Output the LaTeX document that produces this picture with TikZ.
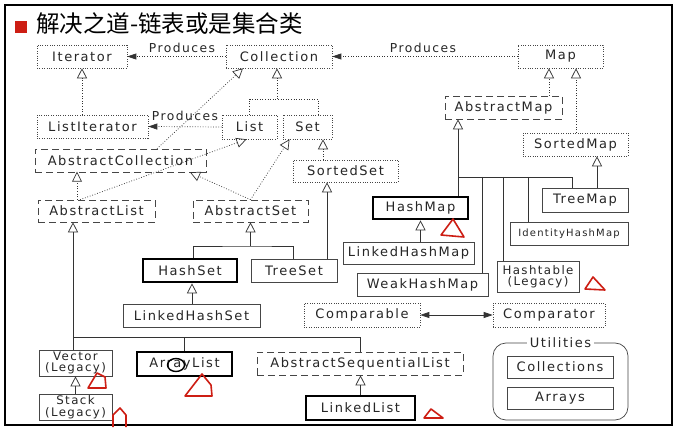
\documentclass[tikz,border=0pt]{standalone}
\usepackage{fontspec}
\setmainfont[LetterSpace=12]{DejaVu Sans}
\newfontfamily\cjk{Noto Sans CJK SC}
\usetikzlibrary{arrows.meta}
\definecolor{markred}{RGB}{205,30,20}
\definecolor{boxline}{RGB}{70,70,70}
\tikzset{
  box/.style={draw=boxline, line width=0.6pt, inner sep=0pt, text=black!85,
    font=\fontsize{13}{14}\selectfont},
  sz/.style 2 args={minimum width=#1pt, minimum height=#2pt},
  dotbox/.style={box, dash pattern=on 0.8pt off 1.6pt},
  dashbox/.style={box, dash pattern=on 7pt off 4pt},
  solidbox/.style={box},
  thickbox/.style={box, draw=black, line width=2.6pt},
  smalltext/.style={font=\fontsize{11.8}{11.5}\selectfont, align=center},
  tinytext/.style={font=\fontsize{10}{11}\selectfont},
  conn/.style={draw=black!80, line width=0.7pt},
  dotconn/.style={conn, dash pattern=on 0.8pt off 1.8pt},
  inh/.style={-{Triangle[open,length=10pt,width=10pt]}},
  prod/.style={dotconn, -{Triangle[length=9pt,width=6pt]}},
  lbl/.style={inner sep=0pt, text=black!85, font=\fontsize{12.3}{13}\selectfont},
  redmark/.style={draw=markred, line width=1.6pt, line join=round}
}
\begin{document}
\begin{tikzpicture}[x=1pt,y=-1pt]
\useasboundingbox (0,0) rectangle (677,430);
\fill[white] (0,0) rectangle (677,430);
\draw[line width=1.2pt] (5,5) rectangle (672,425);
% title
\fill[markred] (15,21) rectangle (27,33);
\node[anchor=west, inner sep=0pt, font=\cjk\fontsize{23.5}{25}\selectfont] (title) at (36,24) {解决之道-链表或是集合类};
% nodes
\node[dotbox, sz={90}{23}] (iter) at (82,56.5) {Iterator};
\node[dotbox, sz={106}{23}] (coll) at (279,56.5) {Collection};
\node[dotbox, sz={85}{23}] (map) at (560.5,56.5) {Map};
\node[dotbox, sz={111}{23}] (listiter) at (92.5,126.5) {ListIterator};
\node[dotbox, sz={55}{24}] (list) at (249.5,127) {List};
\node[dotbox, sz={49}{24}] (set) at (307.5,127) {Set};
\node[dashbox, sz={171}{23}] (abscoll) at (120.5,160.5) {AbstractCollection};
\node[dotbox, sz={105}{22}] (sortedset) at (345.5,171) {SortedSet};
\node[dashbox, sz={117}{22}] (abslist) at (96.5,211) {AbstractList};
\node[dashbox, sz={115}{22}] (absset) at (250.5,211) {AbstractSet};
\node[thickbox, sz={94}{23}] (hashset) at (190,270.5) {HashSet};
\node[solidbox, sz={86}{23}] (treeset) at (294,270.5) {TreeSet};
\node[solidbox, sz={137}{23}] (linkedhashset) at (191.5,315.5) {LinkedHashSet};
\node[dashbox, sz={117}{23}] (absmap) at (503.5,107.5) {AbstractMap};
\node[dotbox, sz={105}{23}] (sortedmap) at (575.5,144.5) {SortedMap};
\node[thickbox, sz={95}{22}] (hashmap) at (420.5,208) {HashMap};
\node[solidbox, sz={86}{24}] (treemap) at (585,200) {TreeMap};
\node[solidbox, tinytext, sz={118}{23}] (identity) at (569,233.5) {IdentityHashMap};
\node[solidbox, sz={131}{22}] (linkedhashmap) at (408.5,253) {LinkedHashMap};
\node[solidbox, sz={131}{23}] (weakhashmap) at (422.5,284.5) {WeakHashMap};
\node[solidbox, smalltext, sz={82}{31}] (hashtable) at (538,276.5) {Hashtable\\(Legacy)};
\node[dotbox, sz={116}{24}] (comparable) at (362,315) {Comparable};
\node[dotbox, sz={112}{24}] (comparator) at (549,315) {Comparator};
\node[solidbox, smalltext, sz={73}{26}] (vector) at (75.5,363) {Vector\\(Legacy)};
\node[solidbox, smalltext, sz={73}{26}] (stack) at (75.5,407) {Stack\\(Legacy)};
\node[thickbox, sz={95}{24}] (arraylist) at (184.5,364) {ArrayList};
\node[dashbox, sz={206}{23}] (absseq) at (360,363.5) {AbstractSequentialList};
\node[thickbox, sz={109}{24}] (linkedlist) at (360.5,408) {LinkedList};
\node[box, rounded corners=13pt, line width=0.7pt, sz={135}{77}] (util) at (560.5,381.5) {};
\node[lbl, font=\fontsize{13}{14}\selectfont, fill=white, inner xsep=3pt, inner ysep=1pt] (utillbl) at (560.5,343) {Utilities};
\node[solidbox, sz={106}{22}] (collections) at (560,367) {Collections};
\node[solidbox, sz={106}{22}] (arrays) at (560,398) {Arrays};
% produces
\draw[prod] (coll.west) -- (iter.east);
\node[lbl] (p1) at (182,48) {Produces};
\draw[prod] (map.west) -- (coll.east);
\node[lbl] (p2) at (423,48) {Produces};
\draw[prod] (list.west) -- (listiter.east);
\node[lbl] (p3) at (185,115.5) {Produces};
% collection hierarchy
\draw[dotconn, inh] (iter.south |- listiter.north) -- (iter.south);
\coordinate (cColl) at (277,99);
\draw[dotconn] (list.north) |- (cColl) -| ([xshift=10.5pt]set.north);
\draw[dotconn, inh] (cColl) -- (cColl |- coll.south);
\draw[dotconn, inh] ([xshift=36.5pt]abscoll.north) -- ([xshift=-36pt]coll.south);
\draw[dotconn, inh] ([xshift=-19.5pt]abslist.north) -- ++(0,-28);
\draw[dotconn, inh] ([xshift=-16.5pt]abslist.north) -- ([xshift=-3pt]list.south);
\draw[dotconn, inh] (absset.north) -- ([xshift=69.5pt]abscoll.south);
\draw[dotconn, inh] (absset.north) -- ([xshift=-18pt]set.south);
\coordinate (cSS) at (323,0);
\draw[dotconn, inh] (cSS |- sortedset.north) -- (cSS |- set.south);
\coordinate (cTS) at (327,0);
\draw[conn, inh] (cTS |- treeset.north) -- (cTS |- sortedset.south);
\coordinate (jAS) at (250.5,246);
\draw[conn] ([xshift=3pt]hashset.north) |- (jAS) -| ([xshift=-1pt]treeset.north);
\draw[conn, inh] (jAS) -- (absset.south);
\draw[conn, inh] ([xshift=0.5pt]linkedhashset.north) -- ([xshift=2pt]hashset.south);
\coordinate (jAL) at (73,337);
\draw[conn, inh] (jAL) -- (jAL |- abslist.south);
\draw[conn] (jAL |- vector.north) -- (jAL) -| (absseq.north);
\draw[conn] (arraylist.north |- jAL) -- (arraylist.north);
\draw[conn, inh] (stack.north) -- (vector.south);
\draw[conn, inh] (linkedlist.north) -- (linkedlist.north |- absseq.south);
% map hierarchy
\coordinate (cMA) at (549,0);
\draw[dotconn, inh] (cMA |- absmap.north) -- (cMA |- map.south);
\coordinate (cMS) at (576,0);
\draw[dotconn, inh] (cMS |- sortedmap.north) -- (cMS |- map.south);
\coordinate (cTM) at (597,0);
\draw[conn, inh] (cTM |- treemap.north) -- (cTM |- sortedmap.south);
\coordinate (jHM) at (458,177);
\draw[conn, inh] (jHM |- hashmap.north) -- (jHM |- absmap.south);
\draw[conn] (jHM) -| ([xshift=-13pt]treemap.north);
\coordinate (cW) at (482,177);
\draw[conn] (cW) -- (cW |- weakhashmap.north);
\coordinate (cHt) at (503,177);
\draw[conn] (cHt) -- (cHt |- hashtable.north);
\coordinate (cId) at (528,177);
\draw[conn] (cId) -- (cId |- identity.north);
\draw[conn, inh] (hashmap.south |- linkedhashmap.north) -- (hashmap.south);
\draw[conn, {Triangle[length=9pt,width=6pt]}-{Triangle[length=9pt,width=6pt]}] (comparable.east) -- (comparator.west);
% hand marks
\draw[redmark] (453,219) -- (441,235) -- (464,237) -- cycle;
\draw[redmark] (593,277) -- (585,289) -- (605,290) -- cycle;
\draw[redmark] (97,373) -- (88,388) -- (106,388) -- (105,377) -- cycle;
\draw[redmark] (202,374) -- (185,396) -- (212,396) -- (211,385) -- cycle;
\draw[redmark] (113,427) -- (113,415) -- (120,408) -- (126,415) -- (126,427);
\draw[redmark] (431,409) -- (424,418) -- (443,418) -- cycle;
\draw[line width=1.4pt] (176,365) ellipse (8.5pt and 6.5pt);
\end{tikzpicture}
\end{document}
